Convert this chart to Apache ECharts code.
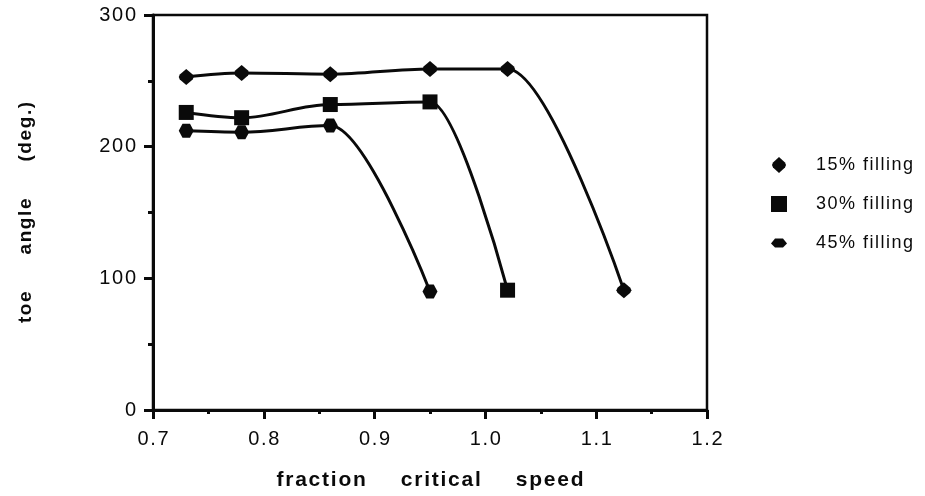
<!DOCTYPE html>
<html>
<head>
<meta charset="utf-8">
<script src="https://cdn.jsdelivr.net/npm/echarts@6/dist/echarts.min.js"></script>
<style>
  html, body { margin: 0; padding: 0; background: #fff; }
  #chart { width: 925px; height: 496px; }
</style>
</head>
<body>
<div id="chart"></div>
<script>
// Toe angle versus fraction of critical speed, for three mill fillings
const speed15 = [0.73, 0.78, 0.86, 0.95, 1.02, 1.125];
const angle15 = [253, 256, 255, 259, 259, 91];

const speed30 = [0.73, 0.78, 0.86, 0.95, 1.02];
const angle30 = [226, 222, 232, 234, 91];

const speed45 = [0.73, 0.78, 0.86, 0.95];
const angle45 = [212, 211, 216, 90];

const seriesNames = ['15% filling', '30% filling', '45% filling'];
const xTicks = [0.7, 0.8, 0.9, 1.0, 1.1, 1.2];
const yTicks = [0, 100, 200, 300];

const FONT = '"Liberation Sans", Arial, sans-serif';
const INK = '#0a0a0a';

// open up the letter spacing of a label with hair spaces
const HAIR = '\u200A';
const track = s => s.split('').join(HAIR);

const symDiamond = 'path://M0,-8 L6,-2.5 L7,0 L6,2.5 L0,8 L-6,2.5 L-7,0 L-6,-2.5 Z';
const symSquare = 'rect';
const symHex = 'path://M-8,0 L-4,-5.5 L4,-5.5 L8,0 L4,5.5 L-4,5.5 Z';

const pairs = (xs, ys) => xs.map((x, i) => [x, ys[i]]);

function lineSeries(name, data, symbol, size) {
  return {
    name: name,
    type: 'line',
    data: data,
    smooth: 0.35,
    smoothMonotone: 'x',
    symbol: symbol,
    symbolSize: size,
    lineStyle: { color: INK, width: 3 },
    itemStyle: { color: INK, borderWidth: 0 },
    emphasis: { disabled: true },
    z: 3
  };
}

const chart = echarts.init(document.getElementById('chart'), null, { renderer: 'canvas' });
chart.setOption({
  backgroundColor: '#fff',
  animation: false,
  grid: {
    left: 153, right: 218, top: 15, bottom: 84,
    show: true, borderColor: INK, borderWidth: 2.5, backgroundColor: 'transparent'
  },
  legend: {
    orient: 'vertical',
    left: 766, top: 151,
    itemGap: 21,
    itemWidth: 16, itemHeight: 16,
    formatter: name => track(name),
    textStyle: { fontFamily: FONT, fontSize: 18, color: INK, padding: [0, 0, 0, 24] },
    data: [
      { name: seriesNames[0], icon: symDiamond },
      { name: seriesNames[1], icon: 'rect' },
      { name: seriesNames[2], icon: 'path://M-8,0 L-4,-5 L4,-5 L8,0 L4,4 L-4,4 Z' }
    ]
  },
  xAxis: {
    type: 'value',
    min: 0.7, max: 1.2, interval: 0.1,
    name: ['fraction', 'critical', 'speed'].map(track).join('      '),
    nameLocation: 'middle',
    nameGap: 60,
    nameTextStyle: { fontFamily: FONT, fontSize: 21, fontWeight: 'bold', color: INK },
    axisLine: { lineStyle: { color: INK, width: 3 } },
    axisTick: { inside: false, length: 9, lineStyle: { color: INK, width: 3 } },
    minorTick: { show: true, splitNumber: 2, length: 4, lineStyle: { color: INK, width: 3 } },
    splitLine: { show: false },
    axisLabel: {
      fontFamily: FONT, fontSize: 20, color: INK, margin: 19,
      formatter: v => track(xTicks.find(t => Math.abs(t - v) < 1e-6).toFixed(1))
    }
  },
  yAxis: {
    type: 'value',
    min: 0, max: 300, interval: 100,
    name: ['toe', 'angle', '(deg.)'].map(track).join('       '),
    nameLocation: 'middle',
    nameGap: 118,
    nameRotate: 90,
    nameTextStyle: { fontFamily: FONT, fontSize: 19, fontWeight: 'bold', color: INK },
    axisLine: { lineStyle: { color: INK, width: 3 } },
    axisTick: { inside: false, length: 9, lineStyle: { color: INK, width: 3 } },
    minorTick: { show: true, splitNumber: 2, length: 5, lineStyle: { color: INK, width: 3 } },
    splitLine: { show: false },
    axisLabel: {
      fontFamily: FONT, fontSize: 20, color: INK, margin: 17,
      formatter: v => track(String(yTicks.find(t => t === v)))
    }
  },
  series: [
    lineSeries(seriesNames[0], pairs(speed15, angle15), symDiamond, [15, 16]),
    lineSeries(seriesNames[1], pairs(speed30, angle30), symSquare, [15, 15]),
    lineSeries(seriesNames[2], pairs(speed45, angle45), symHex, [15, 14])
  ]
});
</script>
</body>
</html>
